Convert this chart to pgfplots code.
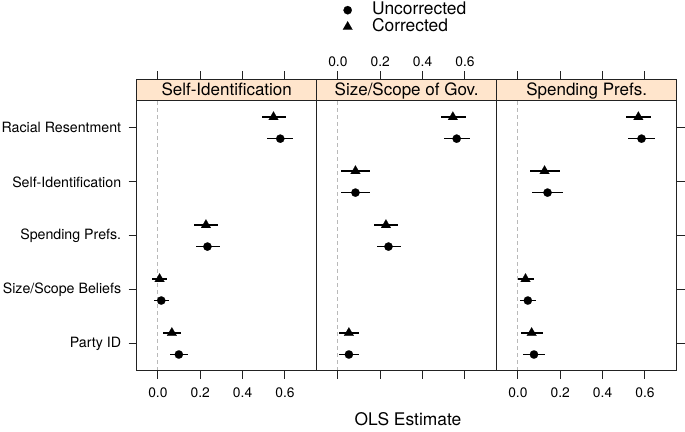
\documentclass[border=0pt]{standalone}
\usepackage{pgfplots}
\usepackage{pgfplotstable}
\pgfplotsset{compat=1.18}
\usepackage{fontspec}
\setmainfont{TeX Gyre Heros}
\definecolor{stripcol}{HTML}{FFE5CC}
\definecolor{framecol}{HTML}{222222}
\newcommand\tickfont{\fontsize{13.8bp}{16bp}\selectfont}
\newcommand\ytickfont{\fontsize{14.2bp}{16bp}\selectfont}
\newcommand\stripfont{\fontsize{17bp}{20bp}\selectfont}
\newcommand\labfont{\fontsize{17.4bp}{20bp}\selectfont}

% panel 1: outcome Self-Identification
\pgfplotstableread{
y x lo hi
5.2 0.546 0.491 0.603
3.2 0.227 0.171 0.282
2.2 0.008 -0.027 0.042
1.2 0.066 0.026 0.109
}\pacorr
\pgfplotstableread{
y x lo hi
4.8 0.578 0.515 0.639
2.8 0.234 0.179 0.292
1.8 0.016 -0.018 0.053
0.8 0.099 0.058 0.142
}\paunc
% panel 2: Size/Scope of Gov.
\pgfplotstableread{
y x lo hi
5.2 0.543 0.485 0.603
4.2 0.083 0.014 0.153
3.2 0.227 0.170 0.283
1.2 0.052 0.005 0.102
}\pbcorr
\pgfplotstableread{
y x lo hi
4.8 0.561 0.502 0.624
3.8 0.083 0.016 0.154
2.8 0.239 0.183 0.296
0.8 0.052 0.003 0.102
}\pbunc
% panel 3: Spending Prefs.
\pgfplotstableread{
y x lo hi
5.2 0.569 0.509 0.628
4.2 0.126 0.055 0.197
2.2 0.036 0.002 0.074
1.2 0.065 0.013 0.118
}\pccorr
\pgfplotstableread{
y x lo hi
4.8 0.584 0.520 0.649
3.8 0.140 0.069 0.213
1.8 0.047 0.011 0.085
0.8 0.076 0.024 0.129
}\pcunc

\pgfplotsset{
  panel/.style={
    width=180bp, height=291.4bp, scale only axis,
    anchor=south west,
    xmin=-0.1, xmax=0.75, ymin=0.5, ymax=5.9,
    xtick={0,0.2,0.4,0.6}, xticklabels={0.0,0.2,0.4,0.6},
    ytick={1,2,3,4,5},
    tick align=outside, major tick length=8bp,
    axis line style={line width=1bp, framecol},
    every tick/.style={line width=0.9bp, framecol},
    xticklabel style={font=\tickfont},
    yticklabel style={font=\ytickfont, xshift=-4bp},
    clip=false, axis on top,
  },
  est/.style={only marks, black, line width=1.2bp,
    error bars/x dir=both, error bars/x explicit, error bars/error mark=none,
    error bars/error bar style={line width=1.2bp, black}},
  table/tab/.style={x=x, y=y,
    x error plus expr=\thisrow{hi}-\thisrow{x},
    x error minus expr=\thisrow{x}-\thisrow{lo}},
  umark/.style={mark=*, mark size=4.2bp, mark options={fill=black, draw=black, line width=0.1bp}},
  cmark/.style={mark=triangle*, mark size=5.6bp, mark options={fill=black, draw=black, line width=0.1bp}},
}

\newcommand\strip[1]{%
  \draw[fill=stripcol, line width=1bp, draw=framecol] (axis cs:-0.1,5.5) rectangle (axis cs:0.75,5.9);
  \node[font=\stripfont, anchor=base, inner sep=0pt] at (axis cs:0.325,5.592) {#1};
}

\begin{document}
\begin{tikzpicture}
\path[use as bounding box] (0,0) rectangle (685bp,432bp);

\begin{axis}[panel, at={(136.7bp,61.3bp)},
  xtick pos=both, xticklabel pos=lower,
  xticklabel style={yshift=-5bp},
  ytick pos=left,
  yticklabels={Party ID, Size/Scope Beliefs, Spending Prefs., Self-Identification, Racial Resentment}]
  \strip{Self-Identification}
  \addplot[gray!55, line width=1bp, dash pattern=on 4bp off 3bp] coordinates {(0,0.5) (0,5.5)};
  \addplot[est, umark] table[tab] {\paunc};
  \addplot[est, cmark] table[tab] {\pacorr};
\end{axis}

\begin{axis}[panel, at={(316.7bp,61.3bp)},
  xtick pos=both, xticklabel pos=upper,
  xticklabel style={yshift=1.5bp},
  ytick=\empty,
  legend style={at={(axis description cs:0.144,1.2665)}, anchor=north west,
    draw=none, fill=none, inner sep=0pt, font=\labfont, column sep=19bp,
    nodes={inner sep=0.5bp, text height=12.2bp, text depth=3.5bp}},
  legend cell align=left]
  \strip{Size/Scope of Gov.}
  \addplot[gray!55, line width=1bp, dash pattern=on 4bp off 3bp, forget plot] coordinates {(0,0.5) (0,5.5)};
  \addplot[est, umark] table[tab] {\pbunc};
  \addlegendentry{Uncorrected}
  \addplot[est, cmark] table[tab] {\pbcorr};
  \addlegendentry{Corrected}
\end{axis}

\begin{axis}[panel, at={(496.7bp,61.3bp)},
  xtick pos=both, xticklabel pos=lower,
  xticklabel style={yshift=-5bp},
  ytick pos=right, yticklabels={}]
  \strip{Spending Prefs.}
  \addplot[gray!55, line width=1bp, dash pattern=on 4bp off 3bp] coordinates {(0,0.5) (0,5.5)};
  \addplot[est, umark] table[tab] {\pcunc};
  \addplot[est, cmark] table[tab] {\pccorr};
\end{axis}

\node[font=\labfont, anchor=base] at (408bp, 7bp) {OLS Estimate};
\end{tikzpicture}
\end{document}
